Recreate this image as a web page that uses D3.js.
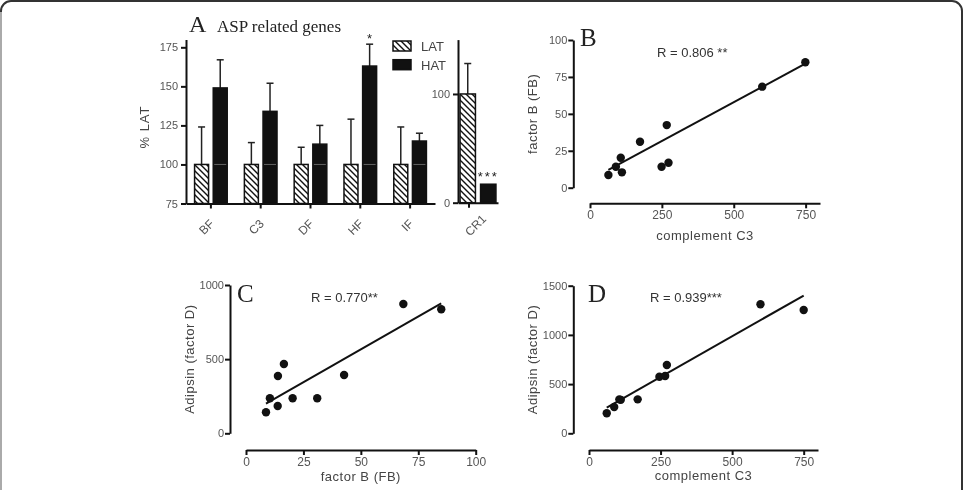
<!DOCTYPE html>
<html>
<head>
<meta charset="utf-8">
<script src="https://cdn.jsdelivr.net/npm/d3@7"></script>
<style>
  body { margin: 0; background: #fff; }
  svg { will-change: transform; }
  text { font-family: "Liberation Sans", Arial, sans-serif; }
</style>
</head>
<body>
<div id="chart"></div>
<script>
// panel A: ASP related genes, % of LAT
const genes = ["BF", "C3", "DF", "HF", "IF"];
const latMean = [100, 100, 100, 100, 100];
const latErr = [24, 14, 11, 29, 24];
const hatMean = [149, 134, 113, 163, 115];
const hatErr = [18, 18, 12, 14, 5];
const groups = ["LAT", "HAT"];
const cr1Mean = [100, 17];
const cr1Err = [28, 1];

// panel B: complement C3 vs factor B
const bC3 = [64, 90, 107, 111, 174, 249, 267, 273, 599, 749];
const bFB = [8.6, 14.2, 20.3, 10.4, 31.1, 14.2, 42.4, 16.9, 68.4, 84.9];
const bFit = [[64, 12], [749, 84]];

// panel C: factor B vs adipsin
const cFB = [8.7, 10.4, 13.8, 13.9, 16.5, 20.3, 31.0, 42.7, 68.5, 85];
const cAdip = [142, 236, 184, 386, 467, 236, 236, 393, 872, 836];
const cFit = [[8.7, 200], [85, 876]];

// panel D: complement C3 vs adipsin
const dC3 = [62, 88, 106, 111, 170, 246, 266, 272, 599, 750];
const dAdip = [203, 268, 345, 340, 345, 575, 582, 694, 1311, 1253];
const dFit = [[62, 262], [750, 1400]];

const W = 965, H = 490;
const svg = d3.select("#chart").append("svg")
    .attr("width", W).attr("height", H);

// frame
svg.append("rect")
    .attr("x", 1).attr("y", 1).attr("width", 961).attr("height", 540)
    .attr("rx", 10)
    .attr("fill", "none").attr("stroke", "#333").attr("stroke-width", 2);
svg.append("line")
    .attr("x1", 1).attr("x2", 1).attr("y1", 12).attr("y2", H)
    .attr("stroke", "#aaa").attr("stroke-width", 2);

// hatch pattern
const pat = svg.append("defs").append("pattern")
    .attr("id", "hatch")
    .attr("patternUnits", "userSpaceOnUse")
    .attr("width", 6).attr("height", 6);
pat.append("rect").attr("width", 6).attr("height", 6).attr("fill", "#fff");
pat.append("path")
    .attr("d", "M0,0L6,6M-3,3L3,9M3,-3L9,3")
    .attr("stroke", "#111").attr("stroke-width", 1.4);

function styleAxis(g, size) {
    g.select(".domain").attr("stroke", "#111").attr("stroke-width", 2);
    g.selectAll(".tick line").attr("stroke", "#111").attr("stroke-width", 2);
    g.selectAll(".tick text")
        .attr("fill", "#555")
        .style("font-size", (size || 11) + "px");
}

function serifLabel(x, y, txt, size) {
    svg.append("text")
        .attr("x", x).attr("y", y)
        .style("font-family", "'Liberation Serif', 'Times New Roman', serif")
        .style("font-size", size + "px")
        .attr("fill", "#222")
        .text(txt);
}

// ---------- panel A ----------
const xA = d3.scaleBand().domain(genes).range([186, 435]);
const xSub = d3.scaleBand().domain(groups)
    .range([0, xA.bandwidth()])
    .paddingInner(0.25).paddingOuter(0.46);
const yA = d3.scaleLinear().domain([75, 180]).range([203.5, 39.5]);

const barsA = genes.map((g, i) => [
    { gene: g, grp: "LAT", v: latMean[i], e: latErr[i] },
    { gene: g, grp: "HAT", v: hatMean[i], e: hatErr[i] }
]).flat();

const gA = svg.append("g");
// error bars first (upward only)
gA.selectAll(".errA").data(barsA).join("g").each(function (d) {
    const cx = xA(d.gene) + xSub(d.grp) + xSub.bandwidth() / 2;
    const g = d3.select(this);
    g.append("line")
        .attr("x1", cx).attr("x2", cx)
        .attr("y1", yA(d.v)).attr("y2", yA(d.v + d.e))
        .attr("stroke", "#222").attr("stroke-width", 1.5);
    g.append("line")
        .attr("x1", cx - 3.5).attr("x2", cx + 3.5)
        .attr("y1", yA(d.v + d.e)).attr("y2", yA(d.v + d.e))
        .attr("stroke", "#222").attr("stroke-width", 1.5);
});
gA.selectAll(".barA").data(barsA).join("rect")
    .attr("x", d => xA(d.gene) + xSub(d.grp))
    .attr("y", d => yA(d.v))
    .attr("width", xSub.bandwidth())
    .attr("height", d => yA(75) - yA(d.v))
    .attr("fill", d => d.grp === "LAT" ? "url(#hatch)" : "#111")
    .attr("stroke", "#111").attr("stroke-width", 1.5);

// faint 100% reference line showing through the dark bars
gA.selectAll(".ref100").data(barsA.filter(d => d.grp === "HAT" && d.v > 100))
    .join("line")
    .attr("x1", d => xA(d.gene) + xSub("HAT") + 1)
    .attr("x2", d => xA(d.gene) + xSub("HAT") + xSub.bandwidth() - 1)
    .attr("y1", yA(100)).attr("y2", yA(100))
    .attr("stroke", "#777").attr("stroke-width", 0.8);

const axAy = svg.append("g")
    .attr("transform", "translate(186,0)")
    .call(d3.axisLeft(yA).tickValues([75, 100, 125, 150, 175])
        .tickSize(5).tickSizeOuter(0).tickPadding(3));
styleAxis(axAy);

const axAx = svg.append("g")
    .attr("transform", "translate(0,203.5)")
    .call(d3.axisBottom(xA).tickSize(5).tickSizeOuter(0));
styleAxis(axAx, 12);
axAx.selectAll(".tick text")
    .attr("text-anchor", "end")
    .attr("dy", null)
    .attr("transform", "translate(4,21) rotate(-45)")
    .attr("y", 0).attr("x", 0);

svg.append("text")
    .attr("transform", "translate(149,127) rotate(-90)")
    .attr("text-anchor", "middle")
    .style("font-size", "13px").style("letter-spacing", "1px")
    .attr("fill", "#444")
    .text("% LAT");

serifLabel(189, 32, "A", 24);
serifLabel(217, 32, "ASP related genes", 17);

// significance star over HF HAT
svg.append("text")
    .attr("x", xA("HF") + xSub("HAT") + xSub.bandwidth() / 2)
    .attr("y", yA(hatMean[3] + hatErr[3]) - 1)
    .attr("text-anchor", "middle")
    .style("font-size", "13px").attr("fill", "#222")
    .text("*");

// legend
const legend = svg.append("g");
groups.forEach((g, i) => {
    legend.append("rect")
        .attr("x", 393).attr("y", 41 + i * 18.7)
        .attr("width", 18).attr("height", 10)
        .attr("fill", g === "LAT" ? "url(#hatch)" : "#111")
        .attr("stroke", "#111").attr("stroke-width", 1.5);
    legend.append("text")
        .attr("x", 421).attr("y", 51 + i * 18.7)
        .style("font-size", "13px").attr("fill", "#444")
        .text(g);
});

// CR1 sub panel
const xCR = d3.scaleBand().domain(["CR1"]).range([458, 498]);
const xCRsub = d3.scaleBand().domain(groups)
    .range([0, xCR.bandwidth()])
    .paddingInner(0.25).paddingOuter(0.1);
const yCR = d3.scaleLinear().domain([0, 150]).range([202.7, 39.6]);

groups.forEach((g, i) => {
    const x0 = xCR("CR1") + xCRsub(g);
    const cx = x0 + xCRsub.bandwidth() / 2;
    if (cr1Err[i] > 2) {
        svg.append("line")
            .attr("x1", cx).attr("x2", cx)
            .attr("y1", yCR(cr1Mean[i])).attr("y2", yCR(cr1Mean[i] + cr1Err[i]))
            .attr("stroke", "#222").attr("stroke-width", 1.5);
        svg.append("line")
            .attr("x1", cx - 3.5).attr("x2", cx + 3.5)
            .attr("y1", yCR(cr1Mean[i] + cr1Err[i])).attr("y2", yCR(cr1Mean[i] + cr1Err[i]))
            .attr("stroke", "#222").attr("stroke-width", 1.5);
    }
    svg.append("rect")
        .attr("x", x0).attr("y", yCR(cr1Mean[i]))
        .attr("width", xCRsub.bandwidth())
        .attr("height", yCR(0) - yCR(cr1Mean[i]))
        .attr("fill", g === "LAT" ? "url(#hatch)" : "#111")
        .attr("stroke", "#111").attr("stroke-width", 1.5);
});
svg.append("text")
    .attr("x", xCR("CR1") + xCRsub("HAT") + xCRsub.bandwidth() / 2)
    .attr("y", yCR(cr1Mean[1]) - 3)
    .attr("text-anchor", "middle")
    .style("font-size", "13px").style("letter-spacing", "2px")
    .attr("fill", "#222")
    .text("***");

const axCRy = svg.append("g")
    .attr("transform", "translate(458,0)")
    .call(d3.axisLeft(yCR).tickValues([0, 100])
        .tickSize(5).tickSizeOuter(0).tickPadding(3));
styleAxis(axCRy);
const axCRx = svg.append("g")
    .attr("transform", "translate(0,202.7)")
    .call(d3.axisBottom(xCR).tickSize(5).tickSizeOuter(0));
styleAxis(axCRx, 12);
axCRx.selectAll(".tick line").attr("transform", "translate(-9,0)");
axCRx.selectAll(".tick text")
    .attr("text-anchor", "end")
    .attr("dy", null)
    .attr("transform", "translate(9,17) rotate(-45)")
    .attr("y", 0).attr("x", 0);

// ---------- scatter panels ----------
function scatter(opt) {
    const x = d3.scaleLinear().domain(opt.xDom).range(opt.xRange);
    const y = d3.scaleLinear().domain(opt.yDom).range(opt.yRange);
    const g = svg.append("g");

    const ax = g.append("g")
        .attr("transform", `translate(0,${opt.xAxisY})`)
        .call(d3.axisBottom(x).tickValues(opt.xTicks).tickFormat(d3.format("d"))
            .tickSize(5).tickSizeOuter(0).tickPadding(2));
    styleAxis(ax, 12);

    const ay = g.append("g")
        .attr("transform", `translate(${opt.yAxisX},0)`)
        .call(d3.axisLeft(y).tickValues(opt.yTicks).tickFormat(d3.format("d"))
            .tickSize(5).tickSizeOuter(0).tickPadding(1));
    styleAxis(ay, 11);

    g.append("line")
        .attr("x1", x(opt.fit[0][0])).attr("y1", y(opt.fit[0][1]))
        .attr("x2", x(opt.fit[1][0])).attr("y2", y(opt.fit[1][1]))
        .attr("stroke", "#111").attr("stroke-width", 2);

    g.selectAll("circle").data(opt.xs.map((v, i) => [v, opt.ys[i]]))
        .join("circle")
        .attr("cx", d => x(d[0])).attr("cy", d => y(d[1]))
        .attr("r", 4.2).attr("fill", "#111");

    g.append("text")
        .attr("x", (opt.xRange[0] + opt.xRange[1]) / 2)
        .attr("y", opt.xLabelY)
        .attr("text-anchor", "middle")
        .style("font-size", "13px").style("letter-spacing", "0.5px")
        .attr("fill", "#444")
        .text(opt.xLabel);

    g.append("text")
        .attr("transform", `translate(${opt.yLabelX},${(opt.yRange[0] + opt.yRange[1]) / 2}) rotate(-90)`)
        .attr("text-anchor", "middle")
        .style("font-size", "13px").style("letter-spacing", "0.5px")
        .attr("fill", "#444")
        .text(opt.yLabel);

    g.append("text")
        .attr("x", opt.rPos[0]).attr("y", opt.rPos[1])
        .style("font-size", "13px")
        .attr("fill", "#333")
        .text(opt.rText);

    serifLabel(opt.letterPos[0], opt.letterPos[1], opt.letter, 25);
}

scatter({
    xs: bC3, ys: bFB, fit: bFit,
    xDom: [0, 800], xRange: [590, 820],
    yDom: [0, 100], yRange: [187.7, 40],
    xAxisY: 203.3, yAxisX: 573.3,
    xTicks: [0, 250, 500, 750], yTicks: [0, 25, 50, 75, 100],
    xLabel: "complement C3", xLabelY: 240,
    yLabel: "factor B (FB)", yLabelX: 537,
    rText: "R = 0.806 **", rPos: [657, 57],
    letter: "B", letterPos: [580, 46]
});

scatter({
    xs: cFB, ys: cAdip, fit: cFit,
    xDom: [0, 100], xRange: [246, 475.7],
    yDom: [0, 1000], yRange: [433.3, 285],
    xAxisY: 450, yAxisX: 230,
    xTicks: [0, 25, 50, 75, 100], yTicks: [0, 500, 1000],
    xLabel: "factor B (FB)", xLabelY: 481,
    yLabel: "Adipsin (factor D)", yLabelX: 194,
    rText: "R = 0.770**", rPos: [311, 302],
    letter: "C", letterPos: [237, 302]
});

scatter({
    xs: dC3, ys: dAdip, fit: dFit,
    xDom: [0, 800], xRange: [589, 818],
    yDom: [0, 1500], yRange: [433.3, 285.7],
    xAxisY: 450, yAxisX: 573.3,
    xTicks: [0, 250, 500, 750], yTicks: [0, 500, 1000, 1500],
    xLabel: "complement C3", xLabelY: 480,
    yLabel: "Adipsin (factor D)", yLabelX: 537,
    rText: "R = 0.939***", rPos: [650, 302],
    letter: "D", letterPos: [588, 302]
});
</script>
</body>
</html>
